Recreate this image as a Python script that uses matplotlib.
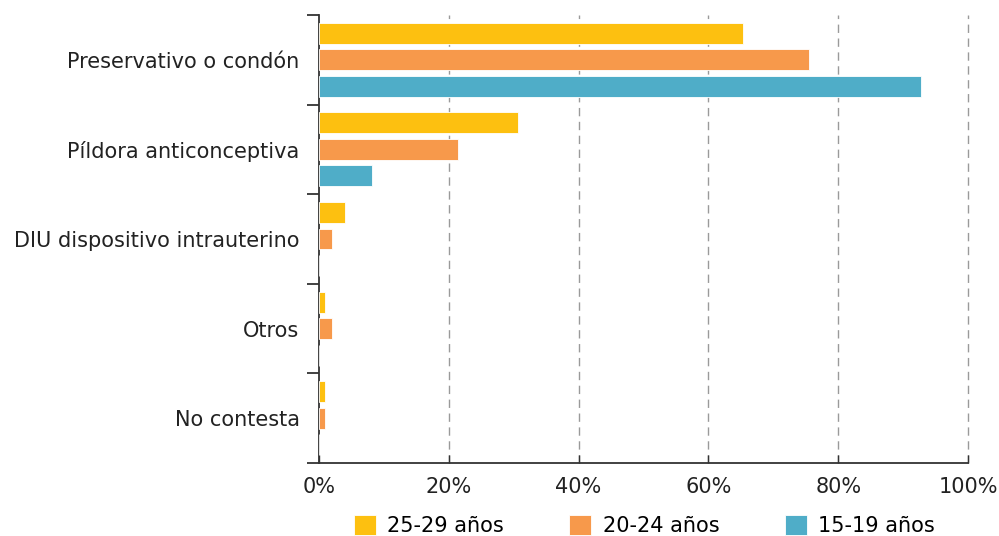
import matplotlib.pyplot as plt
import numpy as np

# datos (%)
categorias = ["Preservativo o condón", "Píldora anticonceptiva",
              "DIU dispositivo intrauterino", "Otros", "No contesta"]
grupos = ["25-29 años", "20-24 años", "15-19 años"]
v_25_29 = [65.3, 30.6, 4.0, 1.0, 1.0]
v_20_24 = [75.5, 21.4, 2.0, 2.0, 1.0]
v_15_19 = [92.8, 8.1, 0.0, 0.0, 0.0]
colores = ["#FDC010", "#F7994B", "#4FADC8"]

plt.rcParams['font.family'] = ['DejaVu Sans']
fs = 15

fig = plt.figure(figsize=(9.99, 5.36), dpi=100)
ax = fig.add_axes([319/999, 1-463/536, (968-319)/999, (463-15)/536])

n = len(categorias)
pos = np.arange(n)
alto = 0.234
paso = 0.296
series = [v_25_29, v_20_24, v_15_19]
for k, (vals, col, lab) in enumerate(zip(series, colores, grupos)):
    ax.barh(pos + (k - 1) * paso, vals, height=alto, color=col, label=lab,
            edgecolor='white', linewidth=0.6, zorder=3)

ax.set_xlim(0, 100)
ax.set_ylim(n - 0.5, -0.5)

# ticks en los limites de categoria, etiquetas en el centro
ax.set_yticks(np.arange(-0.5, n, 1.0))
ax.set_yticklabels([])
ax.set_yticks(pos, minor=True)
ax.set_yticklabels(categorias, minor=True, fontsize=fs, color='#222222')
ax.tick_params(axis='y', which='major', length=9, width=1.3, color='#333333', direction='out')
ax.tick_params(axis='y', which='minor', length=0, pad=14)

ax.set_xticks(np.arange(0, 101, 20))
ax.set_xticklabels([f"{v}%" for v in range(0, 101, 20)], fontsize=fs, color='#222222')
ax.tick_params(axis='x', length=6, width=1.0, color='#333333', direction='in', pad=10)

for g in range(20, 101, 20):
    ax.axvline(g, linestyle=(0, (6, 4)), color='#9a9a9a', linewidth=1.0,
               zorder=0, clip_on=False)

for s in ['top', 'right']:
    ax.spines[s].set_visible(False)
for s in ['left', 'bottom']:
    ax.spines[s].set_color('#333333')
    ax.spines[s].set_linewidth(1.3)

fig.legend(loc='lower center', ncol=3, frameon=False, fontsize=fs,
           bbox_to_anchor=(0.645, -0.035), handlelength=1.05, handleheight=1.05,
           columnspacing=3.15, handletextpad=0.55)

fig.savefig("out.png", dpi=100)
